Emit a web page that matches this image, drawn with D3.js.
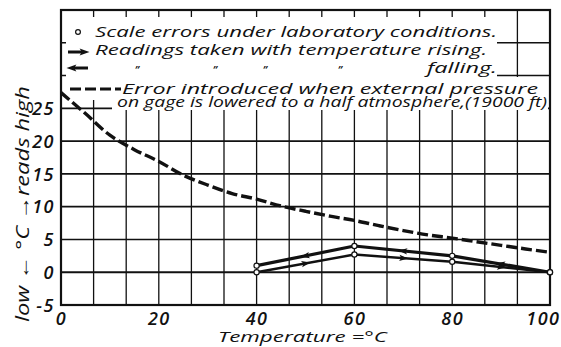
<!DOCTYPE html>
<html>
<head>
<meta charset="utf-8">
<script src="https://cdn.jsdelivr.net/npm/d3@7"></script>
<style>
  body { margin: 0; background: #fff; }
  svg { display: block; }
  text { font-family: "Open Sans", "Noto Sans", sans-serif; font-style: italic; fill: #111; }
</style>
</head>
<body>
<svg id="chart" width="561" height="347"></svg>
<script>
// ---- data ----
const xTickLabels = [0, 20, 40, 60, 80, 100];
const yTickLabels = [-5, 0, 5, 10, 15, 20, 25];
const xGridCount = 15;                 // vertical rulings across 0..100 °C
const yGridValues = [-5, 0, 5, 10, 15, 20, 25, 30, 35, 40];

// scale errors under laboratory conditions
const temps = [40, 60, 80, 100];
const risingErr = [0, 2.7, 1.6, 0];
const fallingErr = [1.0, 4.0, 2.5, 0];

// error introduced at half an atmosphere
const curveTemps = [0, 5, 10, 15, 20, 25, 30, 35, 40, 45, 50, 55, 60, 65, 70, 75, 80, 85, 90, 95, 100];
const pressureErr = [27.4, 24.2, 20.9, 18.7, 16.9, 14.8, 13.3, 12.0, 11.15, 10.1, 9.3, 8.55, 7.9, 7.1, 6.35, 5.7, 5.2, 4.65, 4.1, 3.55, 3.05];

const legendTexts = [
  "Scale errors under laboratory conditions.",
  "Readings taken with temperature rising.",
  "falling.",
  "Error introduced when external pressure",
  "on gage is lowered to a half atmosphere,(19000 ft)"
];
const xTitle = "Temperature =°C";
const yTitle = "low ← °C →reads high";

// ---- layout ----
const svg = d3.select("#chart");
const plotL = 61, plotR = 550, plotT = 10, plotB = 305;
const x = d3.scaleLinear().domain([0, 100]).range([plotL, plotR]);
const y = d3.scaleLinear().domain([-5, 40]).range([plotB, plotT]);
const ink = "#111";

svg.append("rect").attr("width", 561).attr("height", 347).attr("fill", "#fff");

// grid
const gx = d3.range(0, xGridCount + 1).map(i => i * 100 / xGridCount);
svg.append("g").selectAll("line").data(gx).join("line")
  .attr("x1", d => x(d)).attr("x2", d => x(d))
  .attr("y1", plotT).attr("y2", plotB)
  .attr("stroke", ink).attr("stroke-width", 1.3);
svg.append("g").selectAll("line").data(yGridValues).join("line")
  .attr("x1", plotL).attr("x2", plotR)
  .attr("y1", d => y(d)).attr("y2", d => y(d))
  .attr("stroke", ink).attr("stroke-width", d => d === 0 ? 2 : 1.6);

// white panels behind the key
const panels = [
  [66, 17, 497, 77],
  [66, 77, 540, 100],
  [112, 97, 548, 110]
];
svg.append("g").selectAll("rect").data(panels).join("rect")
  .attr("x", d => d[0]).attr("y", d => d[1])
  .attr("width", d => d[2] - d[0]).attr("height", d => d[3] - d[1])
  .attr("fill", "#fff");

// frame
svg.append("rect").attr("x", plotL).attr("y", plotT)
  .attr("width", plotR - plotL).attr("height", plotB - plotT)
  .attr("fill", "none").attr("stroke", ink).attr("stroke-width", 2.2);

// axes (labels only; the rulings are drawn above)
const xAxis = d3.axisBottom(x).tickValues(xTickLabels).tickSize(0).tickPadding(0);
const gxa = svg.append("g").attr("transform", `translate(0,${plotB})`).call(xAxis);
gxa.select(".domain").remove();
gxa.selectAll("text").attr("dy", null).attr("y", 20)
  .attr("text-anchor", d => d === 100 ? "end" : "middle")
  .attr("dx", d => d === 100 ? 10 : 0)
  .style("font-size", "18px").style("font-weight", 600).style("letter-spacing", "1.5px")
  .style("font-family", "'Open Sans', sans-serif").style("font-style", "italic").attr("fill", ink);

const yAxis = d3.axisLeft(y).tickValues(yTickLabels).tickSize(0).tickPadding(0)
  .tickFormat(d => d);
const gya = svg.append("g").attr("transform", `translate(${plotL - 6},0)`).call(yAxis);
gya.select(".domain").remove();
gya.selectAll("text").attr("x", 0).attr("dy", "0.35em")
  .style("font-size", "18px").style("font-weight", 600).style("letter-spacing", "1.5px")
  .style("font-family", "'Open Sans', sans-serif").style("font-style", "italic").attr("fill", ink);

// axis titles
svg.append("text").attr("x", 218).attr("y", 342)
  .attr("textLength", 169).attr("lengthAdjust", "spacingAndGlyphs")
  .style("font-size", "15px").style("font-weight", 500).text(xTitle);
svg.append("text").attr("transform", "translate(29,322) rotate(-90)")
  .attr("textLength", 236).attr("lengthAdjust", "spacingAndGlyphs")
  .style("font-size", "18px").style("font-weight", 500).text(yTitle);

// pressure error curve
const curve = d3.line().x((d, i) => x(curveTemps[i])).y(d => y(d)).curve(d3.curveCatmullRom);
svg.append("path").attr("d", curve(pressureErr))
  .attr("fill", "none").attr("stroke", ink).attr("stroke-width", 3.4)
  .attr("stroke-dasharray", "11,4");

// readings lines
const readLine = d3.line().x((d, i) => x(temps[i])).y(d => y(d));
svg.append("path").attr("d", readLine(fallingErr))
  .attr("fill", "none").attr("stroke", ink).attr("stroke-width", 3.2).attr("stroke-linejoin", "round");
svg.append("path").attr("d", readLine(risingErr))
  .attr("fill", "none").attr("stroke", ink).attr("stroke-width", 2.4).attr("stroke-linejoin", "round");

// arrowheads halfway along each segment
function arrowHeads(vals, dir) {
  const heads = [];
  for (let i = 0; i < vals.length - 1; i++) {
    const x0 = x(temps[i]), y0 = y(vals[i]), x1 = x(temps[i + 1]), y1 = y(vals[i + 1]);
    let a = Math.atan2(y1 - y0, x1 - x0) * 180 / Math.PI;
    if (dir < 0) a += 180;
    heads.push({ cx: (x0 + x1) / 2, cy: (y0 + y1) / 2, a });
  }
  return heads;
}
const headPath = "M5,0 L-4,-3.2 L-2,0 L-4,3.2 Z";
svg.append("g").selectAll("path").data(arrowHeads(fallingErr, -1)).join("path")
  .attr("d", headPath).attr("fill", ink)
  .attr("transform", d => `translate(${d.cx},${d.cy}) rotate(${d.a})`);
svg.append("g").selectAll("path").data(arrowHeads(risingErr, 1)).join("path")
  .attr("d", headPath).attr("fill", ink)
  .attr("transform", d => `translate(${d.cx},${d.cy}) rotate(${d.a})`);

// measured points
const pts = temps.flatMap((t, i) => [[t, fallingErr[i]], [t, risingErr[i]]]);
svg.append("g").selectAll("circle").data(pts).join("circle")
  .attr("cx", d => x(d[0])).attr("cy", d => y(d[1])).attr("r", 2.6)
  .attr("fill", "#fff").attr("stroke", ink).attr("stroke-width", 1.2);

// ---- key ----
const key = svg.append("g");
key.append("circle").attr("cx", 78).attr("cy", 32).attr("r", 2.4)
  .attr("fill", "#fff").attr("stroke", ink).attr("stroke-width", 1.2);
// rising arrow
key.append("line").attr("x1", 68).attr("x2", 83).attr("y1", 52).attr("y2", 52)
  .attr("stroke", ink).attr("stroke-width", 3);
key.append("path").attr("d", headPath).attr("fill", ink)
  .attr("transform", "translate(84,52) scale(1.1)");
// falling arrow
key.append("line").attr("x1", 73).attr("x2", 88).attr("y1", 68).attr("y2", 68)
  .attr("stroke", ink).attr("stroke-width", 3);
key.append("path").attr("d", headPath).attr("fill", ink)
  .attr("transform", "translate(72,68) rotate(180) scale(1.1)");
// dashed sample
key.append("line").attr("x1", 70).attr("x2", 121).attr("y1", 89).attr("y2", 89)
  .attr("stroke", ink).attr("stroke-width", 3.2).attr("stroke-dasharray", "11,4");

const keyRows = [
  { t: legendTexts[0], x: 95, y: 37, w: 402 },
  { t: legendTexts[1], x: 95, y: 55, w: 392 },
  { t: legendTexts[2], x: 427, y: 73, w: 70 },
  { t: legendTexts[3], x: 122, y: 94, w: 416 },
  { t: legendTexts[4], x: 117, y: 107, w: 430 }
];
key.selectAll("text.row").data(keyRows).join("text").attr("class", "row")
  .attr("x", d => d.x).attr("y", d => d.y)
  .attr("textLength", d => d.w).attr("lengthAdjust", "spacingAndGlyphs")
  .style("font-size", "15px").style("font-weight", 500).text(d => d.t);

// ditto marks
key.selectAll("text.ditto").data([137, 215, 265, 340]).join("text").attr("class", "ditto")
  .attr("x", d => d).attr("y", 74).attr("text-anchor", "middle")
  .style("font-size", "11px").style("font-weight", 600).text("\u201D");
</script>
</body>
</html>
